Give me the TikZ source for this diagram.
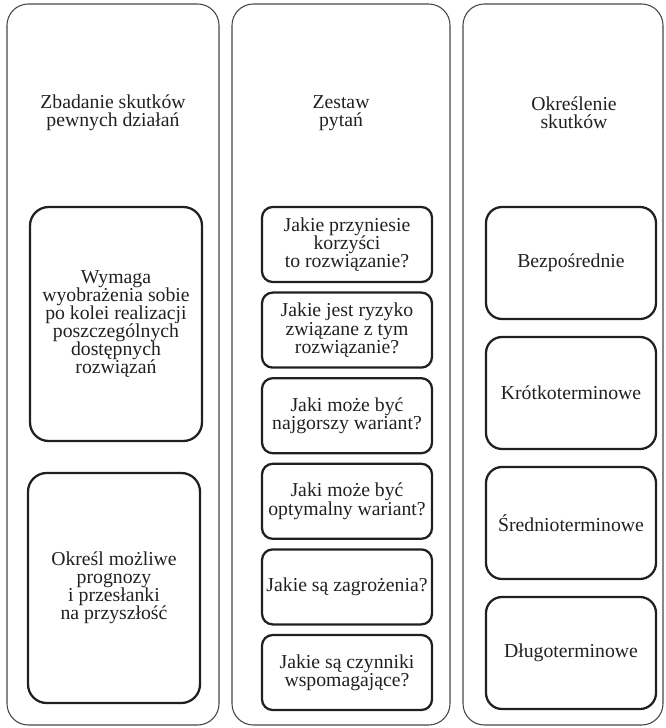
\documentclass[tikz,border=0pt]{standalone}
\usepackage{fontspec}
\setmainfont{Liberation Serif}
\newfontfamily\timesfont{Liberation Serif}
\definecolor{inkblack}{RGB}{35,31,32}
\definecolor{panelgray}{RGB}{70,70,70}

\begin{document}
\begin{tikzpicture}[x=0.75pt, y=-0.75pt,
	panel/.style={draw=panelgray, line width=0.8pt, rounded corners=16pt},
	card/.style={draw=inkblack, line width=1.7pt, rounded corners=8pt},
	label/.style={align=center, text=inkblack, inner sep=0pt, font=\timesfont\fontsize{14.8}{13.6}\selectfont}]

\useasboundingbox (0,0) rectangle (665,728);

% three columns
\draw[panel] (7,4) rectangle (219,725);
\draw[panel] (232,4) rectangle (450,725);
\draw[panel] (463,4) rectangle (663,725);

\node[label] (hdrleft) at (113,113) {Zbadanie skutków\\pewnych działań};
\node[label] (hdrmid) at (341,113) {Zestaw\\pytań};
\node[label] (hdrright) at (574,113) {Określenie\\skutków};

% left column
\draw[card, rounded corners=14pt] (30,207) rectangle (202,441);
\node[label] (wymaga) at (116,324) {Wymaga\\wyobrażenia sobie\\po kolei realizacji\\poszczególnych\\dostępnych\\rozwiązań};
\draw[card, rounded corners=14pt] (28,473) rectangle (200,703);
\node[label] (okresl) at (114,588) {Określ możliwe\\prognozy\\i przesłanki\\na przyszłość};

% middle column
\foreach \q [count=\i from 0] in {{Jakie przyniesie\\korzyści\\to rozwiązanie?},
	{Jakie jest ryzyko\\związane z tym\\rozwiązanie?},
	{Jaki może być\\najgorszy wariant?},
	{Jaki może być\\optymalny wariant?},
	{Jakie są zagrożenia?},
	{Jakie są czynniki\\wspomagające?}}{
	\draw[card] (262,207+85.6*\i) rectangle (432,282+85.6*\i);
	\node[label] (pytanie\i) at (347,244.5+85.6*\i) {\q};
}

% right column
\foreach \s [count=\i from 0] in {Bezpośrednie, Krótkoterminowe, Średnioterminowe, Długoterminowe}{
	\draw[card, rounded corners=12pt] (486,207+130*\i) rectangle (656,319+130*\i);
	\node[label] (skutek\i) at (571,263+130*\i) {\s};
}
\end{tikzpicture}
\end{document}
